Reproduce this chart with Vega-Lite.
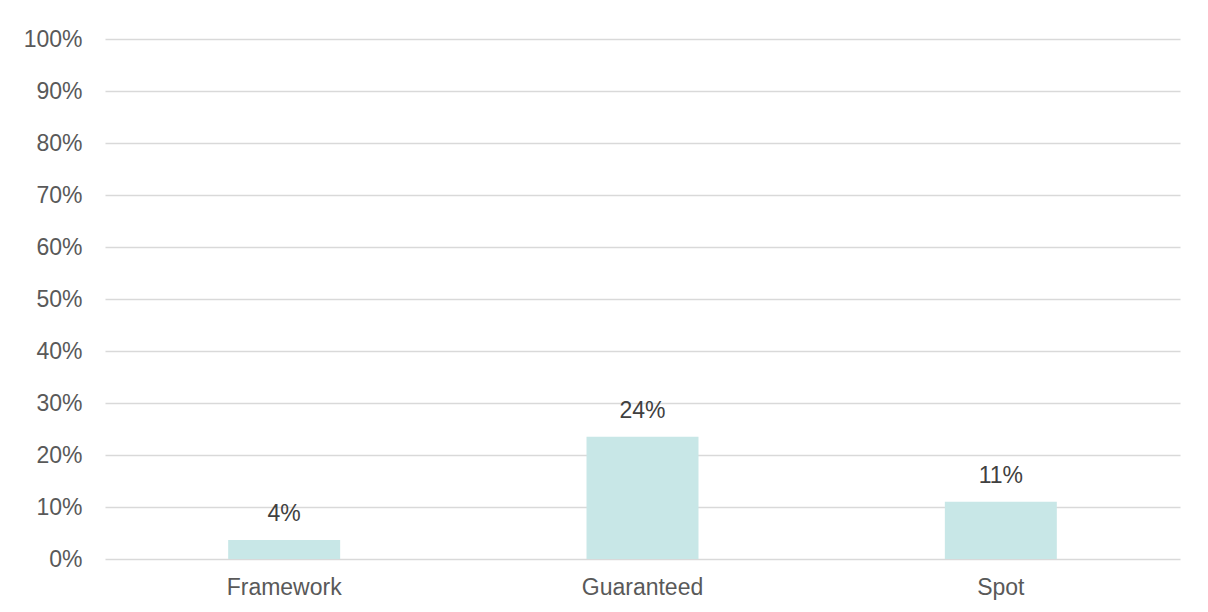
{
  "$schema": "https://vega.github.io/schema/vega-lite/v6.json",
  "autosize": {"type": "none"},
  "width": 1075,
  "height": 520,
  "padding": {"left": 105, "top": 39, "right": 28, "bottom": 53},
  "background": "white",
  "data": {"values": [
    {"category": "Framework", "share": 0.0365, "label": "4%"},
    {"category": "Guaranteed", "share": 0.235, "label": "24%"},
    {"category": "Spot", "share": 0.110, "label": "11%"}
  ]},
  "encoding": {
    "x": {"field": "category", "type": "nominal", "sort": null,
      "scale": {"paddingInner": 0.6875, "paddingOuter": 0.34375},
      "axis": {"title": null, "labelAngle": 0, "ticks": false, "domain": false, "grid": false,
        "labelFont": "Liberation Sans", "labelFontSize": 23, "labelColor": "#595959", "labelPadding": 17}},
    "y": {"field": "share", "type": "quantitative",
      "scale": {"domain": [0, 1]},
      "axis": {"title": null, "format": ".0%", "values": [0,0.1,0.2,0.3,0.4,0.5,0.6,0.7,0.8,0.9,1],
        "ticks": false, "domain": false, "grid": true, "gridColor": "#d9d9d9", "gridWidth": 1.5,
        "labelFont": "Liberation Sans", "labelFontSize": 23, "labelColor": "#595959", "labelPadding": 23}}
  },
  "layer": [
    {"mark": {"type": "bar", "color": "#c8e7e7"}},
    {"mark": {"type": "text", "baseline": "bottom", "dy": -14, "font": "Liberation Sans", "fontSize": 23, "color": "#404040"},
     "encoding": {"text": {"field": "label"}}}
  ],
  "config": {"view": {"stroke": null}}
}
